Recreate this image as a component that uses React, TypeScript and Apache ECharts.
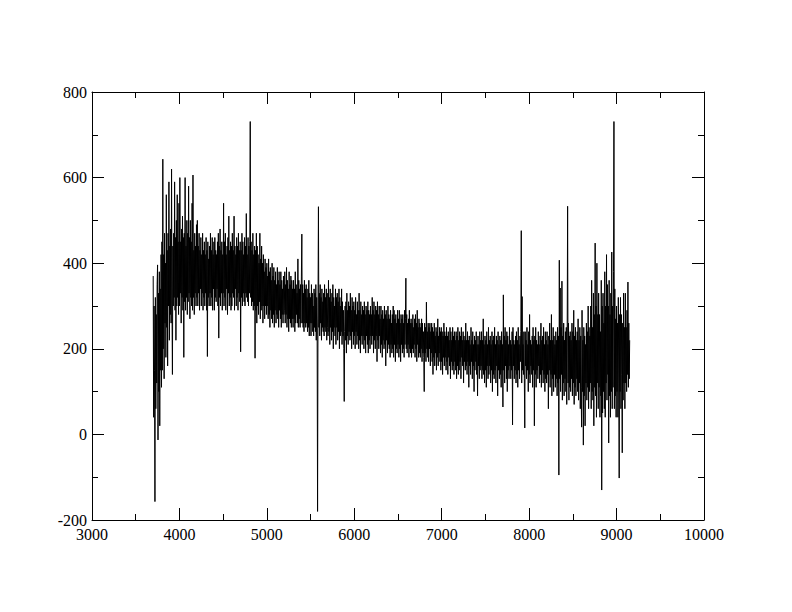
import React, { useEffect, useRef } from "react";
import * as echarts from "echarts";

const WL_START = 3700;
const WL_STEP = 5;

const flux3700 = [
  370, 40, 300, 150, -157, 320, 60, 280, 120, 350,
  396, -13, 330, 100, 380, 20, 340, 150, 420, 110,
  450, 150, 643, 200, 420, 130, 470, 260, 400, 180,
  560, 250, 430, 160, 470, 300, 590, 220, 440, 280,
  480, 260, 620, 300, 140, 440, 300, 470, 320, 590,
  290, 460, 220, 500, 300, 560, 320, 450, 280, 540,
  300, 600, 330, 450, 260, 480, 320, 510, 290, 460,
  180, 470, 310, 600, 290, 440, 320, 500, 280, 470,
  310, 580, 330, 460, 270, 500, 320, 450, 300, 540,
  290, 606, 320, 430, 280, 470, 330, 440, 300, 490,
];
const flux4200 = [
  320, 500, 300, 440, 330, 470, 290, 430, 340, 460,
  300, 420, 330, 470, 290, 430, 320, 450, 300, 420,
  330, 460, 290, 430, 182, 450, 320, 410, 300, 440,
  330, 470, 300, 430, 320, 460, 290, 420, 340, 450,
  290, 460, 320, 430, 310, 420, 340, 450, 300, 470,
  225, 440, 320, 480, 300, 430, 330, 450, 290, 420,
  330, 540, 300, 450, 320, 470, 290, 420, 340, 440,
  280, 460, 330, 510, 300, 430, 320, 450, 290, 440,
  300, 470, 330, 430, 320, 510, 290, 440, 340, 420,
  300, 460, 320, 440, 290, 470, 330, 430, 310, 450,
];
const flux4700 = [
  193, 430, 320, 470, 300, 450, 330, 420, 310, 460,
  300, 440, 330, 516, 320, 420, 310, 460, 300, 440,
  330, 450, 731, 320, 450, 300, 430, 310, 470, 290,
  420, 300, 440, 178, 430, 290, 470, 260, 440, 300,
  420, 280, 400, 310, 470, 270, 410, 290, 440, 300,
  400, 260, 420, 300, 380, 270, 410, 300, 390, 280,
  400, 300, 370, 270, 410, 280, 380, 250, 390, 290,
  360, 270, 400, 260, 370, 280, 390, 250, 360, 290,
  380, 260, 350, 280, 390, 270, 360, 250, 380, 290,
  350, 270, 380, 250, 360, 280, 340, 260, 370, 280,
];
const flux5200 = [
  290, 380, 260, 350, 280, 390, 250, 360, 270, 340,
  240, 380, 270, 350, 260, 370, 250, 360, 270, 340,
  250, 360, 270, 340, 240, 380, 260, 350, 280, 330,
  260, 410, 250, 360, 270, 340, 250, 350, 260, 370,
  468, 260, 350, 250, 330, 240, 360, 260, 340, 250,
  350, 260, 320, 240, 340, 250, 360, 230, 330, 260,
  320, 230, 350, 260, 330, 240, 300, 230, 340, 250,
  330, 240, 350, 220, 320, 250, -180, 300, 532, 250,
  330, 230, 350, 260, 320, 220, 340, 250, 310, 240,
  330, 230, 350, 250, 320, 240, 340, 220, 330, 250,
];
const flux5700 = [
  230, 360, 240, 320, 210, 340, 250, 310, 220, 330,
  240, 350, 200, 320, 250, 300, 230, 340, 210, 320,
  250, 330, 220, 310, 240, 340, 200, 320, 230, 300,
  240, 340, 210, 310, 230, 290, 200, 77, 240, 300,
  220, 310, 190, 330, 230, 290, 210, 310, 240, 300,
  220, 330, 230, 290, 200, 320, 240, 300, 210, 310,
  230, 290, 200, 320, 240, 280, 210, 310, 230, 290,
  200, 330, 220, 290, 190, 310, 230, 280, 210, 300,
  230, 290, 200, 310, 220, 280, 190, 300, 230, 290,
  210, 310, 190, 290, 220, 280, 200, 300, 230, 280,
];
const flux6200 = [
  210, 320, 230, 290, 190, 310, 220, 280, 200, 300,
  230, 290, 170, 310, 220, 280, 200, 300, 230, 270,
  190, 300, 210, 280, 180, 290, 220, 270, 200, 300,
  210, 280, 160, 290, 220, 270, 190, 300, 210, 280,
  200, 270, 180, 290, 210, 260, 190, 280, 200, 300,
  180, 290, 210, 270, 170, 280, 200, 260, 190, 290,
  210, 270, 180, 290, 200, 260, 170, 280, 210, 270,
  190, 280, 200, 260, 180, 290, 210, 270, 365, 200,
  280, 190, 260, 210, 270, 180, 290, 200, 260, 190,
  270, 180, 260, 200, 280, 190, 250, 210, 270, 180,
];
const flux6700 = [
  280, 200, 260, 170, 290, 210, 250, 180, 270, 190,
  260, 180, 250, 200, 270, 170, 260, 190, 240, 180,
  100, 260, 190, 250, 170, 309, 200, 240, 180, 260,
  170, 250, 200, 260, 160, 240, 190, 260, 170, 250,
  140, 240, 180, 260, 160, 230, 190, 250, 150, 240,
  180, 270, 160, 230, 190, 250, 170, 240, 150, 250,
  170, 240, 140, 230, 180, 260, 160, 240, 180, 230,
  150, 250, 170, 230, 140, 240, 180, 220, 160, 250,
  130, 240, 170, 220, 150, 250, 160, 230, 140, 240,
  170, 220, 150, 240, 130, 230, 160, 250, 140, 220,
];
const flux7200 = [
  150, 240, 170, 230, 130, 250, 180, 220, 160, 240,
  120, 230, 170, 220, 150, 260, 160, 220, 140, 240,
  170, 220, 110, 230, 160, 210, 140, 250, 170, 220,
  130, 240, 160, 210, 100, 230, 150, 220, 170, 240,
  140, 210, 90, 230, 160, 210, 130, 240, 150, 220,
  160, 240, 130, 220, 150, 270, 140, 210, 120, 230,
  150, 220, 110, 240, 160, 210, 130, 250, 140, 220,
  160, 230, 120, 210, 150, 240, 100, 220, 140, 230,
  130, 250, 150, 210, 120, 230, 160, 220, 90, 240,
  150, 210, 130, 230, 140, 220, 110, 240, 150, 210,
];
const flux7700 = [
  64, 326, 150, 230, 120, 250, 160, 220, 130, 240,
  100, 230, 150, 210, 130, 250, 160, 220, 130, 210,
  150, 240, 22, 250, 160, 220, 130, 210, 150, 230,
  120, 240, 140, 220, 110, 250, 150, 210, 130, 230,
  170, 240, 476, 120, 322, 150, 210, 140, 240, 130,
  15, 240, 160, 220, 130, 250, 150, 210, 100, 240,
  140, 280, 120, 220, 160, 210, 140, 230, 110, 250,
  150, 220, 20, 230, 140, 250, 110, 220, 150, 210,
  130, 240, 160, 210, 120, 230, 140, 260, 110, 220,
  150, 230, 120, 250, 140, 210, 100, 240, 130, 220,
];
const flux8200 = [
  120, 240, 140, 210, 60, 230, 150, 260, 110, 220,
  140, 280, 90, 220, 130, 250, 100, 230, 140, 210,
  110, 240, 130, 220, 90, 250, 120, 230, -95, 407,
  130, 342, 100, 250, 140, 358, 80, 230, 120, 260,
  90, 220, 130, 240, 100, 250, 70, 230, 533, 120,
  260, 80, 230, 110, 240, 100, 220, 130, 260, 90,
  240, 120, 290, 70, 230, 110, 250, 90, 220, 130,
  240, 100, 270, 80, 220, 120, 250, 60, 230, 110,
  17, 290, 100, 220, -25, 250, 90, 230, 20, 210,
  120, 260, 80, 240, 110, 300, 60, 250, 100, 230,
];
const flux8700 = [
  120, 300, 60, 360, 100, 250, 80, 330, 20, 280,
  110, 447, 90, 300, 40, 400, 120, 280, 60, 330,
  110, 280, 40, 240, 90, 360, -130, 300, 50, 330,
  100, 260, 60, 380, 40, 300, 120, 420, 80, 350,
  140, 300, -20, 360, 90, 280, 40, 330, 100, 426,
  60, 300, 110, 380, 731, 60, 340, 90, 270, 40,
  300, 100, 260, 40, 320, 120, -102, 280, 100, 320,
  60, 280, 140, -43, 260, 80, 330, 120, 250, 60,
  330, 120, 250, 100, 290, 140, 356, 110, 260, 130,
  220,
];

const flux = [
  ...flux3700, ...flux4200, ...flux4700, ...flux5200, ...flux5700,
  ...flux6200, ...flux6700, ...flux7200, ...flux7700, ...flux8200, ...flux8700,
];

const X_MIN = 3000, X_MAX = 10000, X_INT = 1000;
const Y_MIN = -200, Y_MAX = 800, Y_INT = 200;
const FONT = "Liberation Serif";

export default function App() {
  const ref = useRef<HTMLDivElement>(null);
  useEffect(() => {
    if (!ref.current) return;
    const chart = echarts.init(ref.current, null, { renderer: "svg" });
    const label = (margin: number) => ({
      show: true,
      margin,
      fontFamily: FONT,
      fontSize: 16,
      color: "#000",
      formatter: (v: number) => String(v),
    });
    const line = { onZero: false, lineStyle: { color: "#000", width: 1 } };
    const tick = { show: true, inside: true, length: 12, lineStyle: { color: "#000", width: 1 } };
    const minor = { show: true, splitNumber: 2, length: 6, lineStyle: { color: "#000", width: 1 } };
    const data = flux.map((v, i) => [WL_START + i * WL_STEP, v]);
    chart.setOption({
      animation: false,
      backgroundColor: "#fff",
      textStyle: { fontFamily: FONT },
      grid: { left: 92, right: 88, top: 92, bottom: 92, containLabel: false },
      xAxis: [
        {
          type: "value", min: X_MIN, max: X_MAX, interval: X_INT, position: "bottom",
          axisLine: { show: true, ...line }, axisTick: tick, minorTick: minor,
          splitLine: { show: false }, minorSplitLine: { show: false },
          axisLabel: label(6),
        },
        {
          type: "value", min: X_MIN, max: X_MAX, interval: X_INT, position: "top",
          axisLine: { show: true, ...line }, axisTick: tick, minorTick: minor,
          splitLine: { show: false }, minorSplitLine: { show: false }, axisLabel: { show: false },
        },
      ],
      yAxis: [
        {
          type: "value", min: Y_MIN, max: Y_MAX, interval: Y_INT, position: "left",
          axisLine: { show: true, ...line }, axisTick: tick, minorTick: minor,
          splitLine: { show: false }, minorSplitLine: { show: false },
          axisLabel: label(5),
        },
        {
          type: "value", min: Y_MIN, max: Y_MAX, interval: Y_INT, position: "right",
          axisLine: { show: true, ...line }, axisTick: tick, minorTick: minor,
          splitLine: { show: false }, minorSplitLine: { show: false }, axisLabel: { show: false },
        },
      ],
      series: [
        {
          type: "line", data, xAxisIndex: 0, yAxisIndex: 0,
          showSymbol: false, symbol: "none", smooth: false,
          lineStyle: { color: "#000", width: 1 },
        },
      ],
    });
    return () => chart.dispose();
  }, []);
  return <div ref={ref} style={{ width: 792, height: 612, position: "absolute", left: 0, top: 0 }} />;
}
